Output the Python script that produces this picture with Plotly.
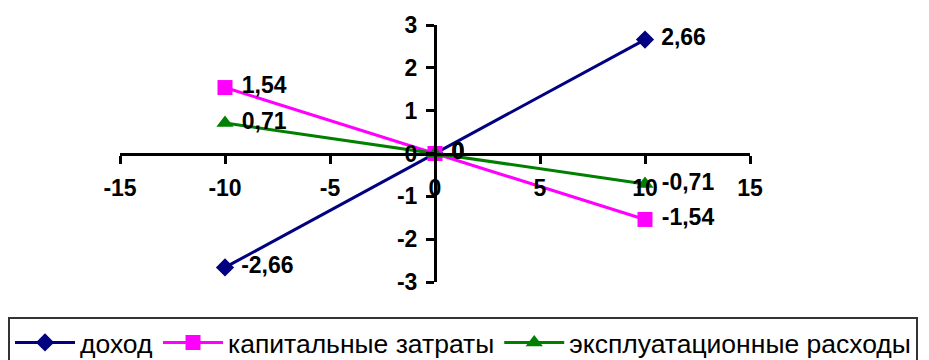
import plotly.graph_objects as go

x_values = [-10, 0, 10]
income = [-2.66, 0, 2.66]
capital_costs = [1.54, 0, -1.54]
operating_costs = [0.71, 0, -0.71]

series_names = ["доход", "капитальные затраты", "эксплуатационные расходы"]
series_colors = ["#000080", "#FF00FF", "#008000"]
series_symbols = ["diamond", "square", "triangle-up"]
series_marker_sizes = [14, 15, 15]

x_ticks = [-15, -10, -5, 0, 5, 10, 15]
x_tick_labels = ["-15", "-10", "-5", "0", "5", "10", "15"]
y_ticks = [-3, -2, -1, 0, 1, 2, 3]
y_tick_labels = ["-3", "-2", "-1", "0", "1", "2", "3"]

FONT = "Liberation Sans, Arial, sans-serif"
W, H = 929, 360
# the page body adds an 8px offset, so the plot box is placed at
# x 112..742 and y 17..274 inside the figure
X0, X1 = 112, 742
TOP, BOTTOM = 17, 86


def fmt(value: float) -> str:
    # comma decimals like the original; the nbsp keeps a small gap after the marker
    if value == 0:
        return "\u00a00"
    return "\u00a0" + f"{value:.2f}".replace(".", ",")


fig = go.Figure()
for name, values, color, symbol, size in zip(
    series_names,
    [income, capital_costs, operating_costs],
    series_colors,
    series_symbols,
    series_marker_sizes,
):
    fig.add_trace(
        go.Scatter(
            x=x_values,
            y=values,
            name=name,
            mode="lines+markers+text",
            line=dict(color=color, width=3),
            marker=dict(symbol=symbol, size=size, color=color),
            text=[fmt(v) for v in values],
            textposition="middle right",
            textfont=dict(family=FONT, size=23, color="black", weight="bold"),
            cliponaxis=False,
        )
    )

axis_font = dict(family=FONT, size=23, color="black", weight="bold")
axis_style = dict(
    anchor="free",
    showgrid=False,
    zeroline=False,
    showline=True,
    linecolor="black",
    linewidth=3,
    ticks="outside",
    ticklen=8,
    tickwidth=3,
    tickcolor="black",
    tickfont=axis_font,
)

fig.update_layout(
    width=W,
    height=H,
    margin=dict(l=0, r=0, t=TOP, b=BOTTOM, autoexpand=False),
    paper_bgcolor="white",
    plot_bgcolor="white",
    showlegend=True,
    xaxis=dict(
        range=[-15, 15],
        domain=[X0 / W, X1 / W],
        tickvals=x_ticks,
        ticktext=x_tick_labels,
        position=0.5,
        ticklabelstandoff=5,
        **axis_style,
    ),
    yaxis=dict(
        range=[-3, 3],
        domain=[0, 1],
        tickvals=y_ticks,
        ticktext=y_tick_labels,
        position=(X0 + X1) / 2 / W,
        ticklabelstandoff=4,
        **axis_style,
    ),
    legend=dict(
        orientation="h",
        x=0,
        xanchor="left",
        y=-0.135,
        yanchor="top",
        bordercolor="#333333",
        borderwidth=2,
        font=dict(family=FONT, size=26.5, color="black"),
        itemwidth=60,
        traceorder="normal",
    ),
)

fig.write_html("out.html")
